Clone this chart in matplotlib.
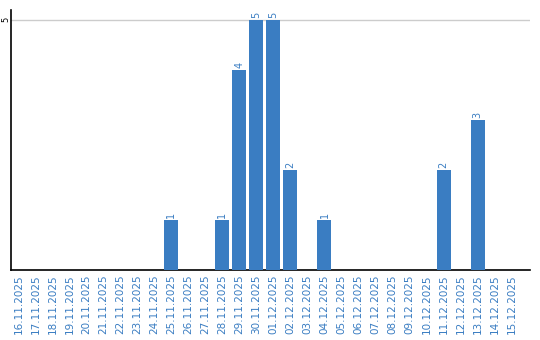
import matplotlib
matplotlib.use('Agg')
import matplotlib.pyplot as plt

# Daily counts
dates = ['16.11.2025', '17.11.2025', '18.11.2025', '19.11.2025', '20.11.2025',
         '21.11.2025', '22.11.2025', '23.11.2025', '24.11.2025', '25.11.2025',
         '26.11.2025', '27.11.2025', '28.11.2025', '29.11.2025', '30.11.2025',
         '01.12.2025', '02.12.2025', '03.12.2025', '04.12.2025', '05.12.2025',
         '06.12.2025', '07.12.2025', '08.12.2025', '09.12.2025', '10.12.2025',
         '11.12.2025', '12.12.2025', '13.12.2025', '14.12.2025', '15.12.2025']
counts = [0, 0, 0, 0, 0, 0, 0, 0, 0, 1,
          0, 0, 1, 4, 5, 5, 2, 0, 1, 0,
          0, 0, 0, 0, 0, 2, 0, 3, 0, 0]

blue = '#3a7dc2'

fig = plt.figure(figsize=(5.4, 3.4), dpi=100)
ax = fig.add_axes([0.021, 0.206, 0.961, 0.765])

x = list(range(len(dates)))
ax.bar(x, counts, width=0.82, color=blue, zorder=3)

# value labels on non-zero bars
for xi, c in zip(x, counts):
    if c > 0:
        ax.text(xi, c + 0.03, str(c), rotation=90, ha='center', va='bottom',
                fontsize=7, color=blue)

ax.set_xlim(-0.41, 30.1)
ax.set_ylim(0, 5.2)
ax.set_yticks([5])
ax.set_yticklabels(['5'], rotation=90, va='center', fontsize=6)
ax.yaxis.grid(True, color='#cccccc', linewidth=1, zorder=0)
ax.tick_params(axis='y', length=0, pad=1)

ax.set_xticks(x)
ax.set_xticklabels(dates, rotation=90, fontsize=7.5, color=blue)
ax.tick_params(axis='x', length=0, pad=3)

for s in ['top', 'right']:
    ax.spines[s].set_visible(False)
ax.spines['left'].set_linewidth(1.2)
ax.spines['bottom'].set_linewidth(1.2)

fig.savefig('out.png', dpi=100)
